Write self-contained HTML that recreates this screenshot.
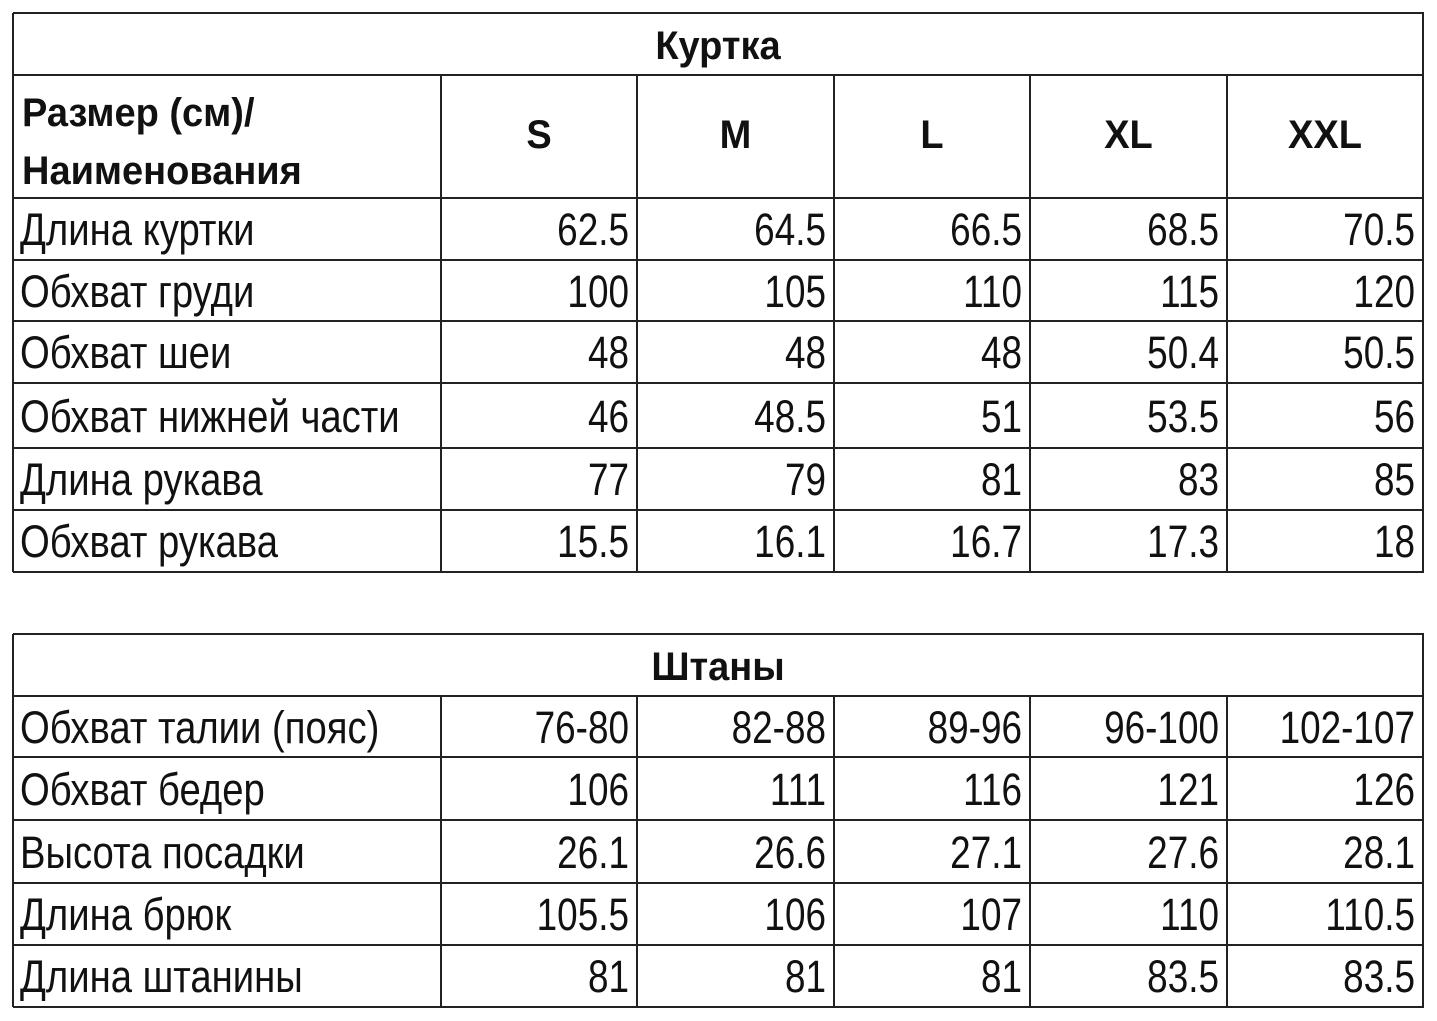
<!DOCTYPE html>
<html><head><meta charset="utf-8"><style>
body{margin:0;width:1437px;height:1021px;background:#fff;position:relative;font-family:"Liberation Sans",sans-serif;color:#111;overflow:hidden}
.l{position:absolute;background:#222}
.t{position:absolute;font-size:45px;line-height:1;white-space:nowrap;transform:scaleX(0.82);transform-origin:left center}
.lb{transform:scaleX(0.85)}
.r{text-align:right;transform-origin:right center}
.c{text-align:center;transform-origin:center center}
.b{font-weight:bold;transform:scaleX(0.95)}
</style></head><body>
<div id="a"></div>
<script>
var H='';
function hl(y,x1,x2){H+='<div class="l" style="left:'+x1+'px;top:'+(y-1)+'px;width:'+(x2-x1+1)+'px;height:2px"></div>';}
function vl(x,y1,y2){H+='<div class="l" style="left:'+(x-1)+'px;top:'+y1+'px;width:2px;height:'+(y2-y1)+'px"></div>';}
function tx(s,x,y,w,cls,fs){H+='<div class="t '+cls+'" style="left:'+x+'px;top:'+y+'px;width:'+w+'px'+(fs?';font-size:'+fs+'px':'')+'">'+s+'</div>';}
var cols=[441,637,834,1030,1227,1423];
function table(top,titleB,rowsY,labels,data,title,header){
  hl(top,13,1423);hl(titleB,13,1423);
  rowsY.forEach(function(y){hl(y,13,1423);});
  vl(13,top,rowsY[rowsY.length-1]);vl(1423,top,rowsY[rowsY.length-1]);
  cols.slice(0,5).forEach(function(x){vl(x,titleB,rowsY[rowsY.length-1]);});
  tx(title,13,top+13,1410,'c b',40);
  var prev=titleB;
  rowsY.forEach(function(y,i){
    var cy=(prev+y)/2-22;
    if(header&&i==0){
      tx('Размер (см)/',22,prev+18,420,'b',40);tx('Наименования',22,prev+76,420,'b',40);
      ['S','M','L','XL','XXL'].forEach(function(s,j){tx(s,cols[j],cy,cols[j+1]-cols[j],'c b',40);});
    } else {
      var k=header?i-1:i;
      tx(labels[k],20,cy,420,'lb');
      data[k].forEach(function(s,j){tx(s,cols[j],cy,cols[j+1]-cols[j]-8,'r');});
    }
    prev=y;
  });
}
table(13,75,[198,260,321,383,448,510,572],
 ['Длина куртки','Обхват груди','Обхват шеи','Обхват нижней части','Длина рукава','Обхват рукава'],
 [['62.5','64.5','66.5','68.5','70.5'],['100','105','110','115','120'],['48','48','48','50.4','50.5'],['46','48.5','51','53.5','56'],['77','79','81','83','85'],['15.5','16.1','16.7','17.3','18']],'Куртка',true);
table(634,696,[757,820,883,945,1007],
 ['Обхват талии (пояс)','Обхват бедер','Высота посадки','Длина брюк','Длина штанины'],
 [['76-80','82-88','89-96','96-100','102-107'],['106','111','116','121','126'],['26.1','26.6','27.1','27.6','28.1'],['105.5','106','107','110','110.5'],['81','81','81','83.5','83.5']],'Штаны',false);
document.getElementById('a').innerHTML=H;
</script>
</body></html>
